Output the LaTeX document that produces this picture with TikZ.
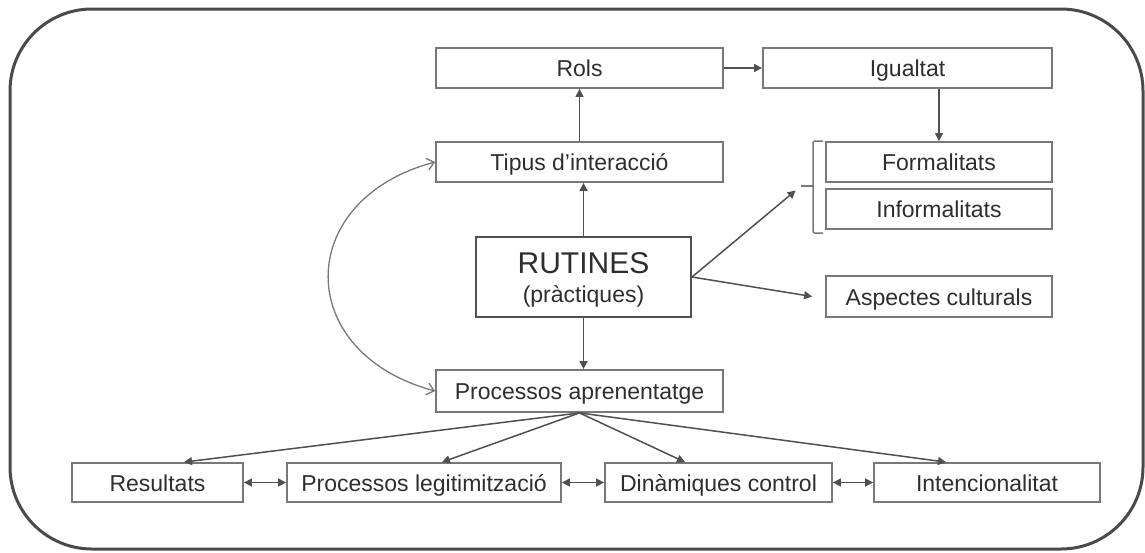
\documentclass[tikz,border=0pt]{standalone}
\usepackage{fontspec}
\setmainfont{Liberation Sans}
\usetikzlibrary{arrows.meta}

\definecolor{txt}{HTML}{2E2E2E}
\definecolor{boxgray}{HTML}{787878}
\definecolor{linegray}{HTML}{505050}
\definecolor{framegray}{HTML}{4A4A4A}

\begin{document}
\begin{tikzpicture}[x=1pt,y=-1pt,
  box/.style={draw=boxgray, line width=1.8pt, minimum height=40pt, inner sep=0pt,
    text height=17pt, text depth=0pt, text=txt, font=\fontsize{23}{27}\selectfont},
  label/.style={inner sep=0pt, text=txt, anchor=base},
  tipA/.style={-{Triangle[length=8pt,width=8pt]}},
  link/.style={draw=linegray, line width=1.5pt, tipA},
  twoway/.style={draw=linegray, line width=1.5pt,
    {Triangle[length=8pt,width=8pt]}-{Triangle[length=8pt,width=8pt]}},
  loopback/.style={draw=boxgray, line width=1.3pt,
    {Straight Barb[length=7pt,width=12pt]}-{Straight Barb[length=7pt,width=12pt]}},
  frame/.style={draw=framegray, line width=3pt, rounded corners=82pt}]

\useasboundingbox (0,0) rectangle (1145,552);

% outer frame
\draw[frame] (10,9) rectangle (1143,549);

% upper boxes
\node[box, minimum width=287pt] (rols) at (579.5,68) {Rols};
\node[box, minimum width=289pt] (igu)  at (907.5,68) {Igualtat};
\node[box, minimum width=287pt] (tip)  at (579.5,162) {Tipus d’interacció};
\node[box, minimum width=226pt] (form) at (939,162) {Formalitats};
\node[box, minimum width=226pt] (inf)  at (939,209) {Informalitats};
\node[box, minimum width=226pt, minimum height=41pt] (asp) at (939,296.5) {Aspectes culturals};

% central box
\node[box, draw=linegray, line width=2pt, minimum width=215pt, minimum height=80pt] (rut) at (583.5,277) {};
\node[label, font=\fontsize{30}{34}\selectfont] (rutA) at (583.5,273) {RUTINES};
\node[label, font=\fontsize{23}{27}\selectfont] (rutB) at (583.5,302) {(pràctiques)};

\node[box, minimum width=287pt, minimum height=42pt] (proc) at (579.5,391) {Processos aprenentatge};

% bottom row
\node[box, minimum width=171pt, minimum height=39pt] (res) at (157.5,482.5) {Resultats};
\node[box, minimum width=274pt, minimum height=39pt] (leg) at (424,482.5) {Processos legitimització};
\node[box, minimum width=227pt, minimum height=39pt] (din) at (718.5,482.5) {Dinàmiques control};
\node[box, minimum width=226pt, minimum height=39pt] (int) at (987,482.5) {Intencionalitat};

% bracket grouping Formalitats / Informalitats
\draw[draw=boxgray, line width=1.5pt, rounded corners=2pt]
  (823,141) -- (813,141) -- (813,233) -- (823,233);
\coordinate (brk) at (801,186);
\draw[draw=boxgray, line width=1.5pt] (brk) -- (813,186);

% connectors
\draw[link] (tip.north) -- (rols.south);
\draw[link] (rols.east) -- (igu.west);
\draw[link] (form.north |- igu.south) -- (form.north);
\draw[link] (rut.north) -- (rut.north |- tip.south);
\draw[link] (rut.south) -- (rut.south |- proc.north);
\draw[link, shorten >=7pt] (rut.east) -- (brk);
\draw[link] (rut.east) -- ([xshift=-13pt]asp.west);

\draw[loopback] (tip.west) .. controls (293,200) and (293,353) .. (proc.west);

\draw[link] (proc.south) -- ([xshift=26.5pt]res.north);
\draw[link] (proc.south) -- ([xshift=18pt]leg.north);
\draw[link] (proc.south) -- ([xshift=-33.5pt]din.north);
\draw[link] (proc.south) -- ([xshift=-41pt]int.north);

\draw[twoway] (res.east) -- (leg.west);
\draw[twoway] (leg.east) -- (din.west);
\draw[twoway] (din.east) -- (int.west);

\end{tikzpicture}
\end{document}
